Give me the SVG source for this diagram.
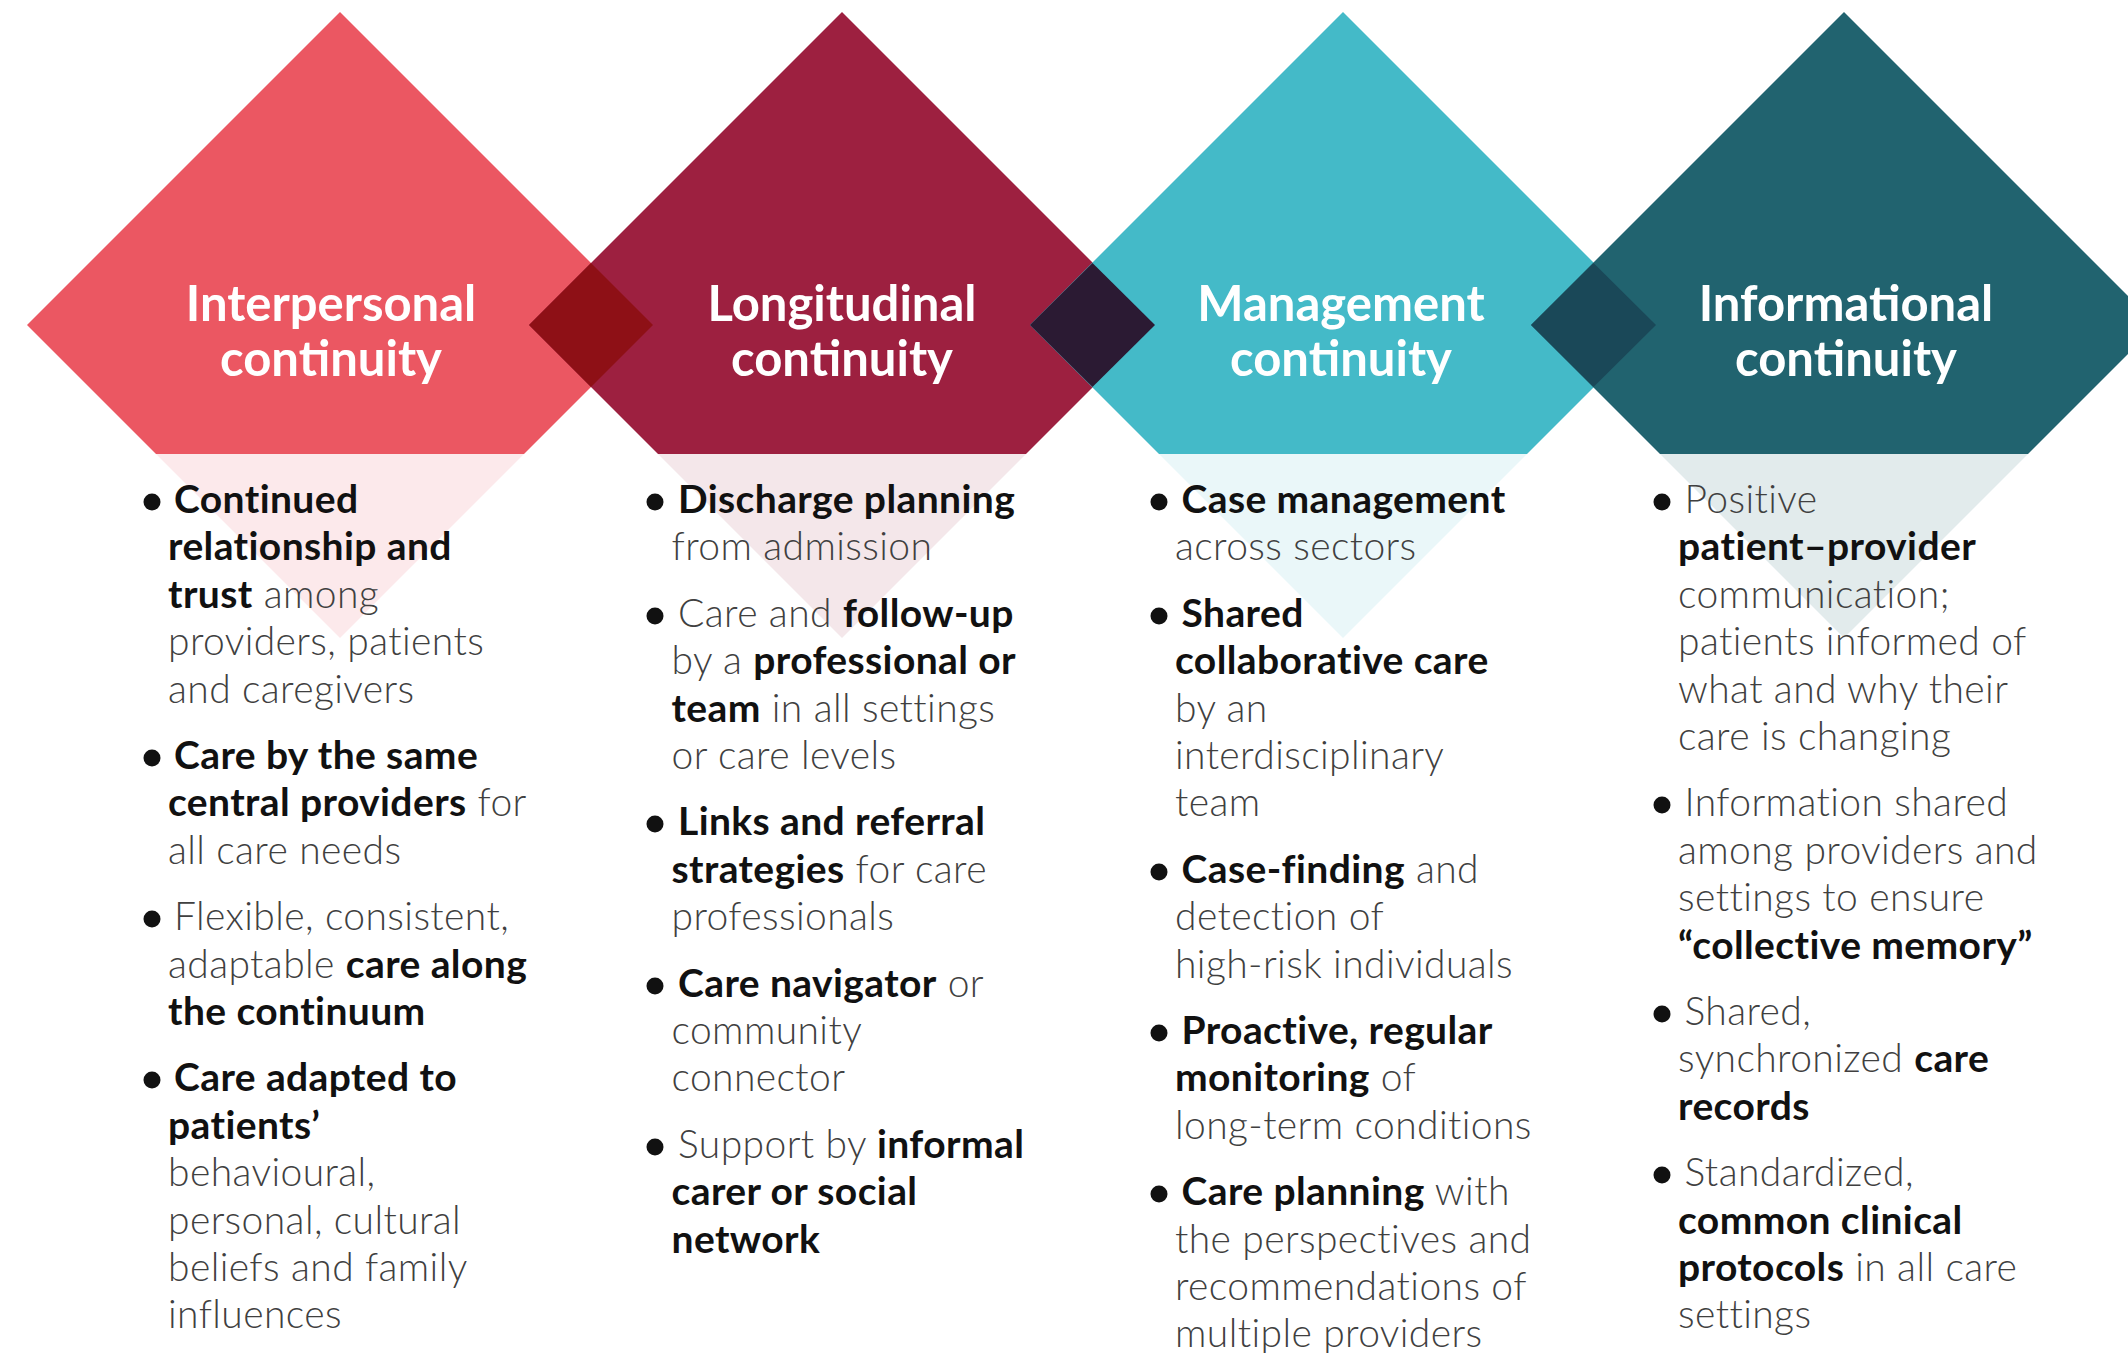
<svg xmlns="http://www.w3.org/2000/svg" width="2128" height="1353" viewBox="0 0 2128 1353">
<style>
.t{font-family:Lato,"Open Sans","Liberation Sans",sans-serif;font-size:49px;font-weight:700;fill:#fff;text-anchor:middle}
.x{font-family:Lato,"Open Sans","Liberation Sans",sans-serif;font-size:39px;letter-spacing:0.4px;font-weight:300;fill:#404040}
.b{font-weight:700;fill:#111}
.dot{fill:#111}
</style>
<rect width="2128" height="1353" fill="#fff"/>
<g id="interpersonal">
<polygon points="156,454 524,454 340,638" fill="#EB5762" opacity="0.13"/>
<polygon points="340,12 653,325 524,454 156,454 27,325" fill="#EB5762"/>
<text class="t" x="331" y="321">Interpersonal</text>
<text class="t" x="331" y="376">continuity</text>
<circle class="dot" cx="152" cy="502" r="8.5"/>
<text class="x" x="174" y="513"><tspan class="b">Continued</tspan></text>
<text class="x" x="168" y="560"><tspan class="b">relationship and</tspan></text>
<text class="x" x="168" y="608"><tspan class="b">trust</tspan> among</text>
<text class="x" x="168" y="655">providers, patients</text>
<text class="x" x="168" y="703">and caregivers</text>
<circle class="dot" cx="152" cy="758" r="8.5"/>
<text class="x" x="174" y="769"><tspan class="b">Care by the same</tspan></text>
<text class="x" x="168" y="816"><tspan class="b">central providers</tspan> for</text>
<text class="x" x="168" y="864">all care needs</text>
<circle class="dot" cx="152" cy="919" r="8.5"/>
<text class="x" x="174" y="930">Flexible, consistent,</text>
<text class="x" x="168" y="978">adaptable <tspan class="b">care along</tspan></text>
<text class="x" x="168" y="1025"><tspan class="b">the continuum</tspan></text>
<circle class="dot" cx="152" cy="1080" r="8.5"/>
<text class="x" x="174" y="1091"><tspan class="b">Care adapted to</tspan></text>
<text class="x" x="168" y="1139"><tspan class="b">patients’</tspan></text>
<text class="x" x="168" y="1186">behavioural,</text>
<text class="x" x="168" y="1234">personal, cultural</text>
<text class="x" x="168" y="1281">beliefs and family</text>
<text class="x" x="168" y="1328">influences</text>
</g>
<g id="longitudinal">
<polygon points="658,454 1026,454 842,638" fill="#9D2040" opacity="0.11"/>
<polygon points="842,12 1155,325 1026,454 658,454 529,325" fill="#9D2040"/>
<text class="t" x="842" y="321">Longitudinal</text>
<text class="t" x="842" y="376">continuity</text>
<circle class="dot" cx="655" cy="502" r="8.5"/>
<text class="x" x="678" y="513"><tspan class="b">Discharge planning</tspan></text>
<text class="x" x="671.5" y="560">from admission</text>
<circle class="dot" cx="655" cy="616" r="8.5"/>
<text class="x" x="678" y="627">Care and <tspan class="b">follow-up</tspan></text>
<text class="x" x="671.5" y="674">by a <tspan class="b">professional or</tspan></text>
<text class="x" x="671.5" y="722"><tspan class="b">team</tspan> in all settings</text>
<text class="x" x="671.5" y="769">or care levels</text>
<circle class="dot" cx="655" cy="824" r="8.5"/>
<text class="x" x="678" y="835"><tspan class="b">Links and referral</tspan></text>
<text class="x" x="671.5" y="883"><tspan class="b">strategies</tspan> for care</text>
<text class="x" x="671.5" y="930">professionals</text>
<circle class="dot" cx="655" cy="986" r="8.5"/>
<text class="x" x="678" y="997"><tspan class="b">Care navigator</tspan> or</text>
<text class="x" x="671.5" y="1044">community</text>
<text class="x" x="671.5" y="1091">connector</text>
<circle class="dot" cx="655" cy="1147" r="8.5"/>
<text class="x" x="678" y="1158">Support by <tspan class="b">informal</tspan></text>
<text class="x" x="671.5" y="1205"><tspan class="b">carer or social</tspan></text>
<text class="x" x="671.5" y="1253"><tspan class="b">network</tspan></text>
</g>
<g id="management">
<polygon points="1159,454 1527,454 1343,638" fill="#44BAC8" opacity="0.11"/>
<polygon points="1343,12 1656,325 1527,454 1159,454 1030,325" fill="#44BAC8"/>
<text class="t" x="1341" y="321">Management</text>
<text class="t" x="1341" y="376">continuity</text>
<circle class="dot" cx="1159" cy="502" r="8.5"/>
<text class="x" x="1181.5" y="513"><tspan class="b">Case management</tspan></text>
<text class="x" x="1175" y="560">across sectors</text>
<circle class="dot" cx="1159" cy="616" r="8.5"/>
<text class="x" x="1181.5" y="627"><tspan class="b">Shared</tspan></text>
<text class="x" x="1175" y="674"><tspan class="b">collaborative care</tspan></text>
<text class="x" x="1175" y="722">by an</text>
<text class="x" x="1175" y="769">interdisciplinary</text>
<text class="x" x="1175" y="816">team</text>
<circle class="dot" cx="1159" cy="872" r="8.5"/>
<text class="x" x="1181.5" y="883"><tspan class="b">Case-finding</tspan> and</text>
<text class="x" x="1175" y="930">detection of</text>
<text class="x" x="1175" y="978">high-risk individuals</text>
<circle class="dot" cx="1159" cy="1033" r="8.5"/>
<text class="x" x="1181.5" y="1044"><tspan class="b">Proactive, regular</tspan></text>
<text class="x" x="1175" y="1091"><tspan class="b">monitoring</tspan> of</text>
<text class="x" x="1175" y="1139">long-term conditions</text>
<circle class="dot" cx="1159" cy="1194" r="8.5"/>
<text class="x" x="1181.5" y="1205"><tspan class="b">Care planning</tspan> with</text>
<text class="x" x="1175" y="1253">the perspectives and</text>
<text class="x" x="1175" y="1300">recommendations of</text>
<text class="x" x="1175" y="1347">multiple providers</text>
</g>
<g id="informational">
<polygon points="1660,454 2028,454 1844,638" fill="#21636F" opacity="0.13"/>
<polygon points="1844,12 2157,325 2028,454 1660,454 1531,325" fill="#21636F"/>
<text class="t" x="1846" y="321">Informational</text>
<text class="t" x="1846" y="376">continuity</text>
<circle class="dot" cx="1662" cy="502" r="8.5"/>
<text class="x" x="1684.5" y="513">Positive</text>
<text class="x" x="1678" y="560"><tspan class="b">patient–provider</tspan></text>
<text class="x" x="1678" y="608">communication;</text>
<text class="x" x="1678" y="655">patients informed of</text>
<text class="x" x="1678" y="703">what and why their</text>
<text class="x" x="1678" y="750">care is changing</text>
<circle class="dot" cx="1662" cy="805" r="8.5"/>
<text class="x" x="1684.5" y="816">Information shared</text>
<text class="x" x="1678" y="864">among providers and</text>
<text class="x" x="1678" y="911">settings to ensure</text>
<text class="x" x="1678" y="959"><tspan class="b">“collective memory”</tspan></text>
<circle class="dot" cx="1662" cy="1014" r="8.5"/>
<text class="x" x="1684.5" y="1025">Shared,</text>
<text class="x" x="1678" y="1072">synchronized <tspan class="b">care</tspan></text>
<text class="x" x="1678" y="1120"><tspan class="b">records</tspan></text>
<circle class="dot" cx="1662" cy="1175" r="8.5"/>
<text class="x" x="1684.5" y="1186">Standardized,</text>
<text class="x" x="1678" y="1234"><tspan class="b">common clinical</tspan></text>
<text class="x" x="1678" y="1281"><tspan class="b">protocols</tspan> in all care</text>
<text class="x" x="1678" y="1328">settings</text>
</g>
<g id="overlaps">
<polygon points="529,325 591,263 653,325 591,387" fill="#8E1016"/>
<polygon points="1030,325 1092.5,263 1155,325 1092.5,387" fill="#2B1A33"/>
<polygon points="1531,325 1593.5,263 1656,325 1593.5,387" fill="#1A4858"/>
</g>
<g id="connectors"/>
</svg>
